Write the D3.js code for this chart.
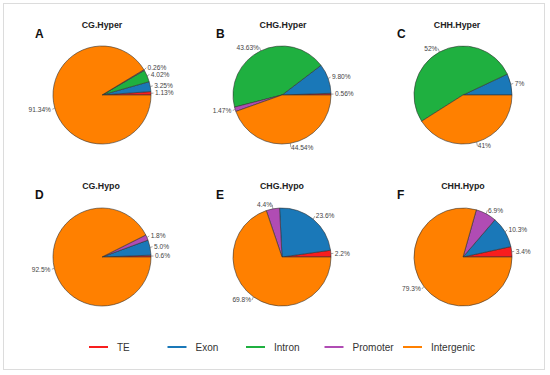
<!DOCTYPE html>
<html><head><meta charset="utf-8">
<script src="https://cdn.jsdelivr.net/npm/d3@7"></script>
<style>body{margin:0;background:#fff}svg{display:block;font-family:"Liberation Sans",Arial,sans-serif}</style>
</head><body>
<svg id="c" width="550" height="375"></svg>
<script>
const categories = ["TE","Exon","Intron","Promoter","Intergenic"];
const colors = ["#f81e1e","#1a78b8","#1fb040","#b04cb4","#ff8000"];
const panelTitles = ["CG.Hyper","CHG.Hyper","CHH.Hyper","CG.Hypo","CHG.Hypo","CHH.Hypo"];
const panelLetters = ["A","B","C","D","E","F"];
const cgHyper  = [1.13, 3.25, 4.02, 0.26, 91.34];
const chgHyper = [0.56, 9.80, 43.63, 1.47, 44.54];
const chhHyper = [0, 7, 52, 0, 41];
const cgHypo   = [0.6, 5.0, 0, 1.8, 92.5];
const chgHypo  = [2.2, 23.6, 0, 4.4, 69.8];
const chhHypo  = [3.4, 10.3, 0, 6.9, 79.3];
const panelValues = [cgHyper, chgHyper, chhHyper, cgHypo, chgHypo, chhHypo];
const labelDecimals = [2, 2, 0, 1, 1, 1];

const svg = d3.select("#c");
svg.append("rect").attr("x",3.5).attr("y",3.5).attr("width",541).attr("height",366)
  .attr("fill","none").attr("stroke","#dcdcdc");

const colX = [102, 282, 463];
const rowY = [95, 257];
const titleX = [102, 283, 457, 101, 282, 463];
const letterX = [35, 216, 397];
const R = 49;
const FS = 6.6, GAP = 6.8;

const pie = d3.pie().sort(null).value(d => d.v)
  .startAngle(Math.PI/2).endAngle(Math.PI/2 - 2*Math.PI);
const arc = d3.arc().innerRadius(0).outerRadius(R);

panelValues.forEach((vals, i) => {
  const col = i % 3, row = Math.floor(i / 3);
  const cx = colX[col], cy = rowY[row];
  const g = svg.append("g").attr("transform", `translate(${cx},${cy})`);
  const data = vals.map((v, k) => ({v, k})).filter(d => d.v > 0);
  const arcs = pie(data);
  g.selectAll("path.s").data(arcs).join("path").attr("class","s")
    .attr("d", arc).attr("fill", d => colors[d.data.k])
    .attr("stroke", "#333").attr("stroke-width", 0.6);
  const labs = arcs.map(a => {
    const m = (a.startAngle + a.endAngle) / 2;
    const sx = Math.sin(m), sy = -Math.cos(m);
    return {a, sx, sy, x: sx*(R+4), y: sy*(R+4), right: sx >= 0};
  });
  // simple vertical repel per side
  [true, false].forEach(side => {
    const s = labs.filter(l => l.right === side).sort((p, q) => p.y - q.y);
    for (let j = 1; j < s.length; j++) {
      if (s[j].y - s[j-1].y < GAP) {
        const d = (GAP - (s[j].y - s[j-1].y)) / 2;
        s[j-1].y -= d; s[j].y += d;
      }
    }
  });
  labs.forEach(l => {
    g.append("line").attr("x1", l.sx*R).attr("y1", l.sy*R)
      .attr("x2", l.sx*(R+2.5)).attr("y2", l.y)
      .attr("stroke", "#666").attr("stroke-width", 0.6);
    g.append("text").attr("x", l.x).attr("y", l.y)
      .attr("dy", "0.35em")
      .attr("text-anchor", l.right ? "start" : "end")
      .attr("font-size", FS).attr("fill", "#444")
      .text(l.a.data.v.toFixed(labelDecimals[i]) + "%");
  });
  svg.append("text").attr("x", titleX[i]).attr("y", row === 0 ? 28 : 189)
    .attr("text-anchor","middle").attr("font-weight","bold").attr("font-size",8.8)
    .attr("fill","#222").text(panelTitles[i]);
  svg.append("text").attr("x", letterX[col]).attr("y", row === 0 ? 38 : 199)
    .attr("font-weight","bold").attr("font-size",12).attr("fill","#111")
    .text(panelLetters[i]);
});

const legX = d3.scalePoint().domain(categories).range([89, 403]);
const lg = svg.append("g");
categories.forEach((c, k) => {
  const x = legX(c);
  lg.append("line").attr("x1", x).attr("x2", x+19).attr("y1", 347).attr("y2", 347)
    .attr("stroke", colors[k]).attr("stroke-width", 2);
  lg.append("text").attr("x", x+28).attr("y", 347).attr("dy","0.35em")
    .attr("font-size", 10).attr("fill", "#333").text(c);
});
</script>
</body></html>
